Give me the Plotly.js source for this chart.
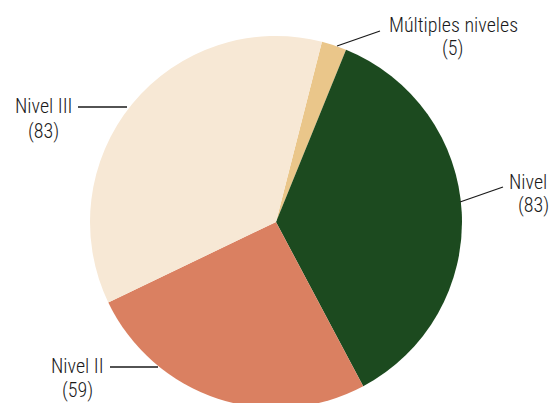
<!DOCTYPE html>
<html>
<head>
<meta charset="utf-8">
<script src="https://cdn.plot.ly/plotly-3.0.1.min.js"></script>
<style>
html,body{margin:0;padding:0;overflow:hidden;background:#fff;width:553px;height:403px;}
#chart{width:553px;height:410px;}
</style>
</head>
<body>
<div id="chart"></div>
<script>
// Data
var labels = ["Múltiples niveles", "Nivel I", "Nivel II", "Nivel III"];
var values = [5, 83, 59, 83];
var colors = ["#EAC68A", "#1C4A1F", "#DA8061", "#F7E8D5"];

var W = 553, H = 410;
function px(x){ return x / W; }
function py(y){ return 1 - y / H; }

// label placement (pixel positions of label centres and leader lines)
var labelPos = [
  {cx: 453, y1: 25, y2: 48, line: [337, 46, 380, 31]},
  {cx: 533, y1: 182, y2: 205, line: [460, 202, 503, 187]},
  {cx: 77, y1: 366, y2: 390, line: [110, 367, 158, 367]},
  {cx: 43, y1: 106, y2: 131, line: [78, 107, 127, 107]}
];

var font = {family: "'Roboto Condensed', 'Liberation Sans Narrow', 'Arial Narrow', 'DejaVu Sans Condensed', sans-serif", size: 20, weight: 300, color: "#1a1a1a"};

var annotations = [], shapes = [];
labels.forEach(function(lab, i){
  var p = labelPos[i];
  annotations.push({xref:"paper", yref:"paper", x: px(p.cx), y: py(p.y1), text: lab, showarrow:false, xanchor:"center", yanchor:"middle", font: font});
  annotations.push({xref:"paper", yref:"paper", x: px(p.cx), y: py(p.y2), text: "(" + values[i] + ")", showarrow:false, xanchor:"center", yanchor:"middle", font: font});
  shapes.push({type:"line", xref:"paper", yref:"paper", x0: px(p.line[0]), y0: py(p.line[1]), x1: px(p.line[2]), y1: py(p.line[3]), line:{color:"#1a1a1a", width:1.3}});
});

var trace = {
  type: "pie",
  labels: labels,
  values: values,
  sort: false,
  direction: "clockwise",
  rotation: 14.3,
  marker: {colors: colors, line: {width: 0}},
  textinfo: "none",
  hoverinfo: "label+value",
  domain: {x: [90 / W, 462 / W], y: [1 - 408 / H, 1 - 36 / H]},
  showlegend: false
};

var layout = {
  width: W, height: H,
  margin: {l:0, r:0, t:0, b:0},
  paper_bgcolor: "#ffffff",
  showlegend: false,
  annotations: annotations,
  shapes: shapes
};

Plotly.newPlot("chart", [trace], layout, {displayModeBar: false, staticPlot: true});
</script>
</body>
</html>
